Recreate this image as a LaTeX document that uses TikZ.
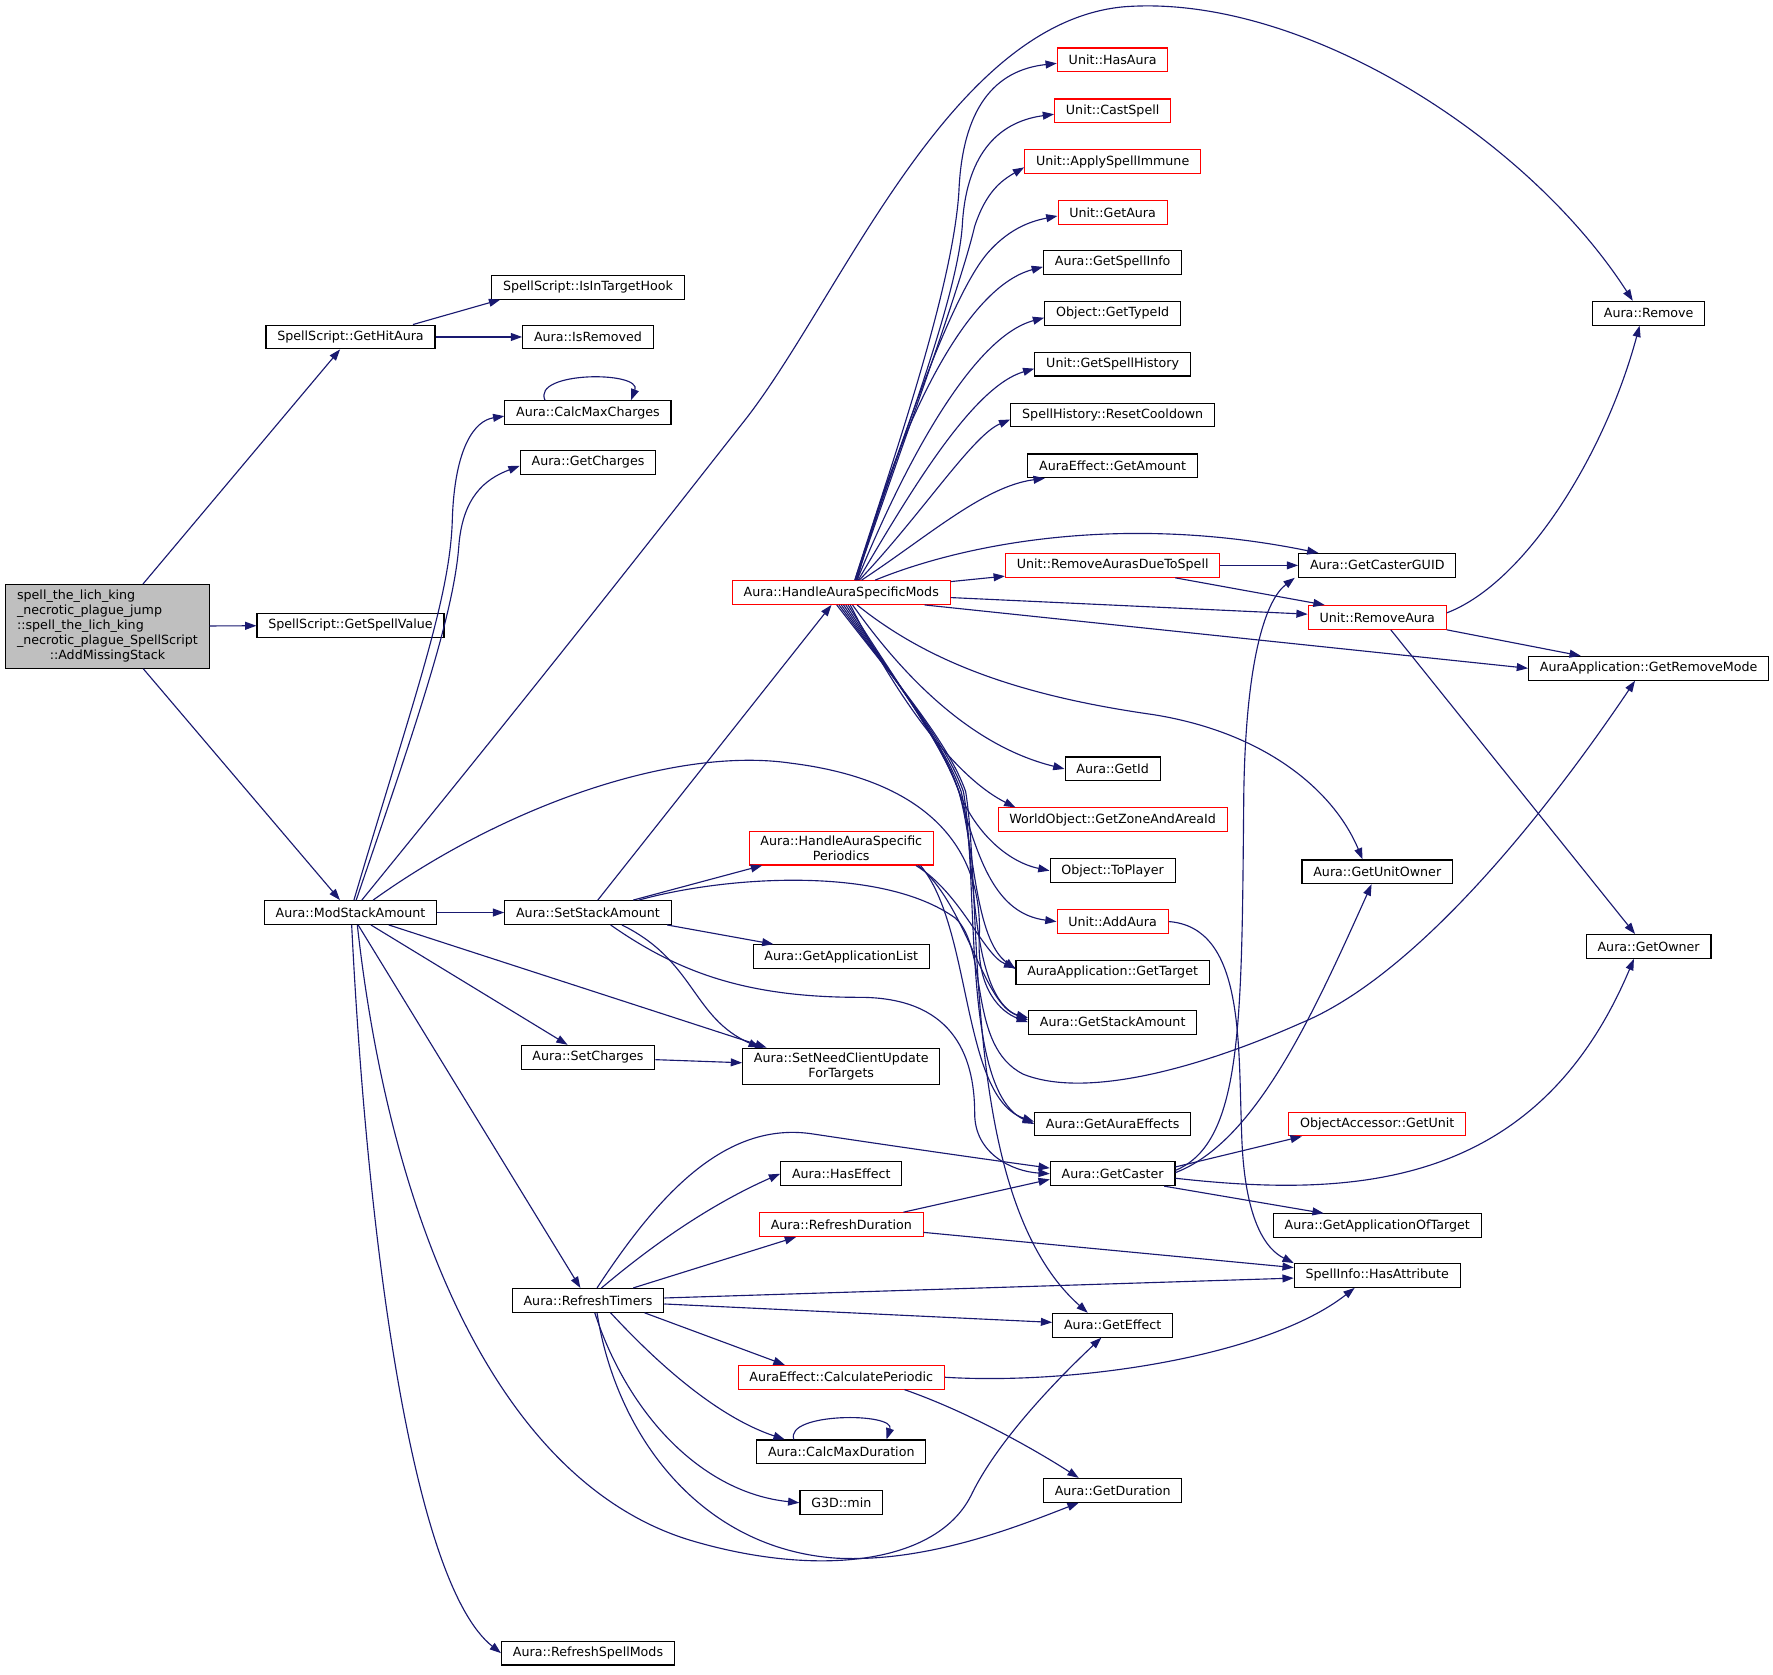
\documentclass[tikz,border=0pt]{standalone}
\usepackage{fontspec}
\setmainfont{DejaVu Sans}
\usetikzlibrary{arrows.meta}
\definecolor{edgeblue}{HTML}{191970}
\definecolor{maingray}{HTML}{BFBFBF}
\tikzset{
  fn/.style={draw=black, line width=1pt, inner xsep=10pt, inner ysep=4pt, minimum height=21pt, font=\fontsize{11.2}{13.2}\selectfont, align=center},
  redfn/.style={fn, draw=red},
  call/.style={draw=edgeblue, line width=1pt, -{Triangle[length=10pt,width=7pt]}},
}
\begin{document}
\begin{tikzpicture}[x=1pt,y=-1pt]
\useasboundingbox (0,0) rectangle (1568,1481);

\node[fn, fill=maingray] (main) at (95,554) {\begin{tabular}{@{}l@{}}spell\_the\_lich\_king\\\_necrotic\_plague\_jump\\::spell\_the\_lich\_king\\\_necrotic\_plague\_SpellScript\\\multicolumn{1}{@{}c@{}}{::AddMissingStack}\end{tabular}};

\node[fn] (hitaura) at (310,298) {SpellScript::GetHitAura};
\node[fn] (spellvalue) at (310,553) {SpellScript::GetSpellValue};
\node[fn] (modstack) at (310,807) {Aura::ModStackAmount};

\node[fn] (intarget) at (520,254) {SpellScript::IsInTargetHook};
\node[fn] (isremoved) at (520,298) {Aura::IsRemoved};
\node[fn] (calccharges) at (520,365) {Aura::CalcMaxCharges};
\node[fn] (getcharges) at (520,409) {Aura::GetCharges};
\node[fn] (setstack) at (520,807) {Aura::SetStackAmount};
\node[fn] (setcharges) at (520,935) {Aura::SetCharges};
\node[fn] (refreshtimers) at (520,1150) {Aura::RefreshTimers};
\node[fn] (refreshmods) at (520,1462) {Aura::RefreshSpellMods};

\node[redfn] (specmods) at (744,524) {Aura::HandleAuraSpecificMods};
\node[redfn] (specper) at (744,750) {Aura::HandleAuraSpecific\\Periodics};
\node[fn] (applist) at (744,846) {Aura::GetApplicationList};
\node[fn] (needupdate) at (744,943) {Aura::SetNeedClientUpdate\\ForTargets};
\node[fn] (haseffect) at (744,1038) {Aura::HasEffect};
\node[redfn] (refreshdur) at (744,1083) {Aura::RefreshDuration};
\node[redfn] (calcper) at (744,1218) {AuraEffect::CalculatePeriodic};
\node[fn] (calcdur) at (744,1284) {Aura::CalcMaxDuration};
\node[fn] (gmin) at (744,1329) {G3D::min};

\node[redfn] (hasaura) at (984,53) {Unit::HasAura};
\node[redfn] (castspell) at (984,98) {Unit::CastSpell};
\node[redfn] (immune) at (984,143) {Unit::ApplySpellImmune};
\node[redfn] (getaura) at (984,188) {Unit::GetAura};
\node[fn] (spellinfo) at (984,232) {Aura::GetSpellInfo};
\node[fn] (typeid) at (984,277) {Object::GetTypeId};
\node[fn] (spellhist) at (984,322) {Unit::GetSpellHistory};
\node[fn] (resetcd) at (984,367) {SpellHistory::ResetCooldown};
\node[fn] (getamount) at (984,412) {AuraEffect::GetAmount};
\node[redfn] (removedue) at (984,500) {Unit::RemoveAurasDueToSpell};
\node[fn] (getid) at (984,680) {Aura::GetId};
\node[redfn] (zonearea) at (984,725) {WorldObject::GetZoneAndAreaId};
\node[fn] (toplayer) at (984,770) {Object::ToPlayer};
\node[redfn] (addaura) at (984,815) {Unit::AddAura};
\node[fn] (gettarget) at (984,860) {AuraApplication::GetTarget};
\node[fn] (getstack) at (984,904) {Aura::GetStackAmount};
\node[fn] (auraeffects) at (984,994) {Aura::GetAuraEffects};
\node[fn] (getcaster) at (984,1038) {Aura::GetCaster};
\node[fn] (geteffect) at (984,1172) {Aura::GetEffect};
\node[fn] (getduration) at (984,1318) {Aura::GetDuration};

\node[fn] (casterguid) at (1218,500) {Aura::GetCasterGUID};
\node[redfn] (removeaura) at (1218,546) {Unit::RemoveAura};
\node[fn] (unitowner) at (1218,771) {Aura::GetUnitOwner};
\node[redfn] (getunit) at (1218,994) {ObjectAccessor::GetUnit};
\node[fn] (appoftarget) at (1218,1084) {Aura::GetApplicationOfTarget};
\node[fn] (hasattr) at (1218,1128) {SpellInfo::HasAttribute};

\node[fn] (remove) at (1458,277) {Aura::Remove};
\node[fn] (removemode) at (1458,591) {AuraApplication::GetRemoveMode};
\node[fn] (getowner) at (1458,837) {Aura::GetOwner};

% calls of the main function
\draw[call] (main) -- (hitaura);
\draw[call] (main) -- (spellvalue);
\draw[call] (main) -- (modstack);
\draw[call] ([xshift=-20pt]hitaura.north east) -- ([xshift=8pt]intarget.south west);
\draw[call] (hitaura) -- (isremoved);
\draw[call] ([xshift=-38pt]calccharges.north) .. controls +(-12,-26) and +(10,-26) .. ([xshift=38pt]calccharges.north);

% ModStackAmount
\draw[call] ([xshift=3pt]modstack.north) .. controls (365,620) and (398,530) .. (400,460) .. controls (402,395) and (420,372) .. ([yshift=-3pt]calccharges.west);
\draw[call] ([xshift=5pt]modstack.north) .. controls (372,630) and (402,540) .. (406,480) .. controls (410,440) and (428,424) .. ([yshift=-3pt]getcharges.west);
\draw[call] ([xshift=10pt]modstack.north) .. controls (500,575) and (600,446) .. (660,370) .. controls (745,260) and (840,20) .. (994,6) .. controls (1150,-6) and (1350,120) .. ([xshift=-14pt]remove.north);
\draw[call] ([xshift=20pt]modstack.north) .. controls (450,710) and (600,660) .. (700,675) .. controls (820,690) and (870,750) .. (866,830) .. controls (864,875) and (885,895) .. (getstack.west);
\draw[call] (modstack) -- (setstack);
\draw[call] (modstack) -- ([xshift=-66pt]needupdate.north);
\draw[call] (modstack) -- (setcharges);
\draw[call] (modstack) -- (refreshtimers);
\draw[call] ([xshift=1pt]modstack.south) .. controls (325,1100) and (365,1400) .. (refreshmods.west);
\draw[call] ([xshift=6pt]modstack.south) .. controls (345,1080) and (440,1310) .. (610,1362) .. controls (720,1395) and (830,1385) .. (860,1320) .. controls (885,1270) and (940,1215) .. ([xshift=-10pt]geteffect.south);

% SetStackAmount
\draw[call] (setstack) -- (specmods);
\draw[call] ([xshift=40pt]setstack.north) -- ([xshift=-70pt]specper.south);
\draw[call] ([xshift=70pt]setstack.south) -- ([xshift=-60pt]applist.north);
\draw[call] ([xshift=45pt]setstack.north) .. controls (640,775) and (780,765) .. (845,812) .. controls (875,840) and (855,925) .. (905,950) .. controls (960,972) and (1060,945) .. (1150,905) .. controls (1260,860) and (1380,700) .. ([xshift=-12pt]removemode.south);
\draw[call] ([xshift=20pt]setstack.south) .. controls (600,860) and (660,882) .. (760,882) .. controls (840,882) and (862,930) .. (862,985) .. controls (862,1020) and (895,1036) .. (getcaster.west);
\draw[call] ([xshift=30pt]setstack.south) .. controls (615,850) and (612,900) .. ([xshift=-72pt]needupdate.north);
\draw[call] (setcharges) -- (needupdate);

% HandleAuraSpecificMods, upwards
\draw[call] ([xshift=12pt]specmods.north) .. controls (785,420) and (842,260) .. (848,170) .. controls (851,95) and (880,62) .. ([yshift=-3pt]hasaura.west);
\draw[call] ([xshift=12pt]specmods.north) .. controls (786,420) and (846,270) .. (851,200) .. controls (854,140) and (880,108) .. ([yshift=-3pt]castspell.west);
\draw[call] ([xshift=13pt]specmods.north) .. controls (788,420) and (848,260) .. (862,200) .. controls (872,170) and (885,160) .. ([yshift=-5pt]immune.west);
\draw[call] ([xshift=13pt]specmods.north) .. controls (790,410) and (840,260) .. (875,222) .. controls (895,200) and (915,195) .. ([yshift=-3pt]getaura.west);
\draw[call] ([xshift=14pt]specmods.north) .. controls (790,390) and (850,255) .. ([yshift=-4pt]spellinfo.west);
\draw[call] ([xshift=14pt]specmods.north) .. controls (800,410) and (860,298) .. ([yshift=-4pt]typeid.west);
\draw[call] ([xshift=15pt]specmods.north) .. controls (805,435) and (860,342) .. ([yshift=-4pt]spellhist.west);
\draw[call] ([xshift=16pt]specmods.north) .. controls (815,455) and (860,385) .. ([yshift=-4pt]resetcd.west);
\draw[call] ([xshift=18pt]specmods.north) .. controls (820,475) and (870,430) .. ([xshift=-60pt]getamount.south);
\draw[call] ([xshift=30pt]specmods.north) .. controls (860,478) and (1000,455) .. ([xshift=-52pt]casterguid.north);
\draw[call] (specmods) -- (removedue);
\draw[call] (specmods) -- (removeaura);
\draw[call] ([xshift=-23pt]specmods.south east) -- (removemode.west);

% HandleAuraSpecificMods, downwards
\draw[call] ([xshift=14pt]specmods.south) .. controls (820,585) and (900,615) .. (1020,632) .. controls (1120,648) and (1180,700) .. ([xshift=-13pt]unitowner.north);
\draw[call] ([xshift=10pt]specmods.south) .. controls (800,600) and (860,660) .. (getid.west);
\draw[call] ([xshift=8pt]specmods.south) .. controls (800,630) and (850,690) .. ([xshift=-86pt]zonearea.north);
\draw[call] ([xshift=6pt]specmods.south) .. controls (790,600) and (832,655) .. (848,700) .. controls (862,735) and (890,762) .. (toplayer.west);
\draw[call] ([xshift=4pt]specmods.south) .. controls (790,600) and (832,655) .. (848,700) .. controls (865,760) and (880,808) .. (addaura.west);
\draw[call] ([xshift=2pt]specmods.south) .. controls (790,600) and (834,655) .. (848,700) .. controls (862,750) and (862,830) .. ([yshift=3pt]gettarget.west);
\draw[call] (specmods.south) .. controls (790,600) and (834,655) .. (850,700) .. controls (864,760) and (856,880) .. ([yshift=2pt]getstack.west);
\draw[call] ([xshift=-2pt]specmods.south) .. controls (790,600) and (836,655) .. (852,700) .. controls (866,780) and (850,965) .. (auraeffects.west);
\draw[call] ([xshift=-4pt]specmods.south) .. controls (790,600) and (838,655) .. (854,700) .. controls (870,800) and (848,1060) .. ([xshift=-22pt]geteffect.north);

% HandleAuraSpecificPeriodics
\draw[call] ([xshift=-16pt]specper.south east) .. controls (850,790) and (870,845) .. ([yshift=4pt]gettarget.west);
\draw[call] ([xshift=-14pt]specper.south east) .. controls (855,800) and (870,890) .. ([yshift=4pt]getstack.west);
\draw[call] ([xshift=-12pt]specper.south east) .. controls (860,820) and (850,970) .. ([yshift=2pt]auraeffects.west);

% RefreshTimers
\draw[call] ([xshift=8pt]refreshtimers.north) .. controls (580,1060) and (640,990) .. (720,1003) .. controls (800,1015) and (870,1025) .. ([yshift=5pt]getcaster.west);
\draw[call] ([xshift=12pt]refreshtimers.north) .. controls (590,1090) and (640,1060) .. (haseffect.west);
\draw[call] ([xshift=40pt]refreshtimers.north) -- ([xshift=-40pt]refreshdur.south);
\draw[call] (refreshtimers) -- (hasattr);
\draw[call] (refreshtimers) -- (geteffect);
\draw[call] ([xshift=50pt]refreshtimers.south) -- ([xshift=-50pt]calcper.north);
\draw[call] ([xshift=20pt]refreshtimers.south) .. controls (590,1215) and (640,1255) .. ([xshift=-50pt]calcdur.north);
\draw[call] ([xshift=6pt]refreshtimers.south) .. controls (555,1250) and (620,1320) .. (gmin.west);
\draw[call] ([xshift=8pt]refreshtimers.south) .. controls (545,1270) and (620,1370) .. (740,1378) .. controls (820,1382) and (900,1350) .. ([xshift=-30pt]getduration.south);
\draw[call] ([xshift=-42pt]calcdur.north) .. controls +(-8,-24) and +(8,-24) .. ([xshift=40pt]calcdur.north);

% remaining calls
\draw[call] ([xshift=55pt]refreshdur.north) -- ([yshift=-5pt]getcaster.west);
\draw[call] (refreshdur) -- (hasattr);
\draw[call] (calcper.east) .. controls (950,1225) and (1120,1200) .. ([xshift=-20pt]hasattr.south);
\draw[call] ([xshift=56pt]calcper.south) .. controls (860,1250) and (920,1285) .. ([xshift=-30pt]getduration.north);
\draw[call] ([yshift=3pt]getcaster.east) .. controls (1100,1010) and (1098,900) .. (1100,700) .. controls (1102,580) and (1120,530) .. ([xshift=-3pt]casterguid.south west);
\draw[call] ([yshift=1pt]getcaster.east) .. controls (1110,1010) and (1160,900) .. ([xshift=-5pt]unitowner.south);
\draw[call] ([yshift=6pt]getcaster.east) -- ([xshift=12pt]getunit.south west);
\draw[call] ([yshift=-4pt]getcaster.east) .. controls (1200,1060) and (1360,1050) .. ([xshift=-13pt]getowner.south);
\draw[call] ([xshift=-10pt]getcaster.south east) -- ([xshift=45pt]appoftarget.north west);
\draw[call] (addaura.east) .. controls (1100,820) and (1095,920) .. (1098,1000) .. controls (1100,1080) and (1120,1105) .. (hasattr.north west);
\draw[call] (removedue) -- (casterguid);
\draw[call] ([xshift=-40pt]removedue.south east) -- ([xshift=15pt]removeaura.north west);
\draw[call] ([yshift=4pt]removeaura.east) .. controls (1350,515) and (1420,400) .. ([xshift=-8pt]remove.south);
\draw[call] (removeaura.south east) -- ([xshift=-60pt]removemode.north);
\draw[call] ([xshift=12pt]removeaura.south) -- ([xshift=-12pt]getowner.north);
\end{tikzpicture}
\end{document}
